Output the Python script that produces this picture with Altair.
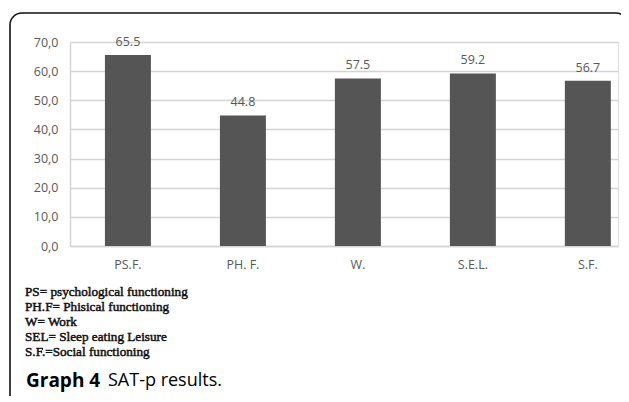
import altair as alt
import pandas as pd

categories = ["PS.F.", "PH. F.", "W.", "S.E.L.", "S.F."]
values = [65.5, 44.8, 57.5, 59.2, 56.7]
y_ticks = [0, 10, 20, 30, 40, 50, 60, 70]
legend_lines = [
    "PS= psychological functioning",
    "PH.F= Phisical functioning",
    "W= Work",
    "SEL= Sleep eating Leisure",
    "S.F.=Social functioning",
]
caption_bold = "Graph 4"
caption_rest = "SAT-p results."

df = pd.DataFrame({"cat": categories, "val": values})

W, H = 548, 204

x_enc = alt.X(
    "cat:N",
    sort=categories,
    scale=alt.Scale(paddingInner=0.6, paddingOuter=0.183, align=0.83),
    axis=alt.Axis(
        title=None, labelAngle=0, ticks=False, domainColor="#d4d4d4", domainWidth=1.5,
        labelFont="Open Sans", labelFontSize=12.5, labelColor="#595959", labelPadding=12,
    ),
)
y_enc = alt.Y(
    "val:Q",
    scale=alt.Scale(domain=[0, 70], nice=False),
    axis=alt.Axis(
        title=None, values=y_ticks, ticks=False, labelOverlap=False,
        domainColor="#d4d4d4", domainWidth=1.5,
        gridColor="#d4d4d4", gridWidth=1.5,
        labelExpr="replace(format(datum.value, '.1f'), '.', ',')",
        labelFont="Open Sans", labelFontSize=12.5, labelColor="#595959", labelPadding=12,
    ),
)

bars = alt.Chart(df).mark_bar(color="#555555").encode(x=x_enc, y=y_enc)
labels = alt.Chart(df).mark_text(
    baseline="bottom", dy=-6, font="Open Sans", fontSize=12.5, color="#595959"
).encode(x=x_enc, y=y_enc, text=alt.Text("val:Q", format=".1f"))

one = alt.Data(values=[{"t": 1}])

border = alt.Chart(one).mark_rect(
    filled=False, stroke="#111111", strokeWidth=1.6, cornerRadius=12
).encode(x=alt.value(-60), x2=alt.value(558), y=alt.value(-29), y2=alt.value(420))

legend = alt.Chart(one).mark_text(
    align="left", baseline="middle", font="Liberation Serif", fontSize=13.2,
    color="#111111", stroke="#111111", strokeWidth=0.5,
    lineBreak="\n", lineHeight=15,
).encode(x=alt.value(-45), y=alt.value(250), text=alt.value("\n".join(legend_lines)))

cap1 = alt.Chart(one).mark_text(
    align="left", baseline="middle", font="Open Sans", fontSize=19, fontWeight="bold", color="#000000"
).encode(x=alt.value(-44), y=alt.value(339), text=alt.value(caption_bold))
cap2 = alt.Chart(one).mark_text(
    align="left", baseline="middle", font="Open Sans", fontSize=18, color="#000000"
).encode(x=alt.value(38), y=alt.value(339), text=alt.value(caption_rest))

chart = alt.layer(bars, labels, border, legend, cap1, cap2).properties(
    width=W, height=H,
    autosize=alt.AutoSizeParams(type="none"),
    padding={"left": 62, "top": 34, "right": 3, "bottom": 150},
).configure_view(stroke=None).configure(background="white")

chart.save("out.html", embed_options={"renderer": "svg", "actions": False})
